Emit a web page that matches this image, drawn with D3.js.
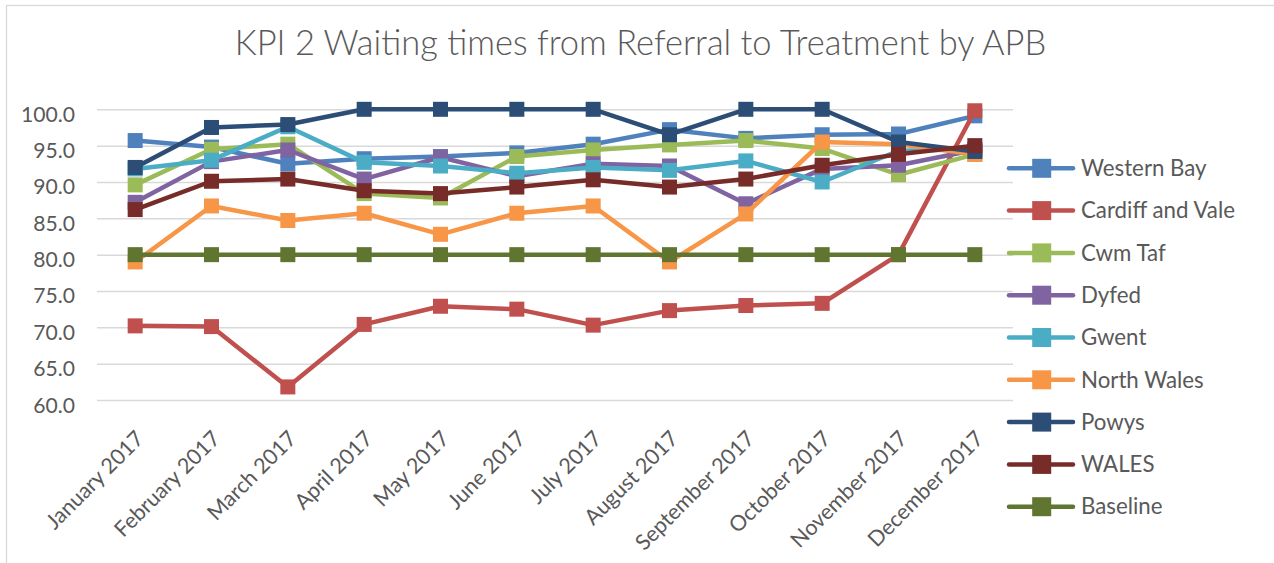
<!DOCTYPE html>
<html>
<head>
<meta charset="utf-8">
<script src="https://cdn.jsdelivr.net/npm/d3@7"></script>
<style>
  html, body { margin: 0; padding: 0; background: #fff; }
  svg { display: block; }
  text { font-family: Lato, "Open Sans", sans-serif; fill: #595959; }
</style>
</head>
<body>
<svg id="chart" width="1274" height="563"></svg>
<script>
const title = "KPI 2 Waiting times from Referral to Treatment by APB";
const months = ["January 2017", "February 2017", "March 2017", "April 2017", "May 2017", "June 2017",
  "July 2017", "August 2017", "September 2017", "October 2017", "November 2017", "December 2017"];
const yTicks = [60, 65, 70, 75, 80, 85, 90, 95, 100];

const seriesNames = ["Western Bay", "Cardiff and Vale", "Cwm Taf", "Dyfed", "Gwent", "North Wales", "Powys", "WALES", "Baseline"];
const seriesColors = ["#4F81BD", "#C0504D", "#9BBB59", "#8064A2", "#4BACC6", "#F79646", "#2C4D75", "#772C2A", "#5F7530"];

const westernBay   = [95.7, 94.8, 92.5, 93.2, 93.5, 94.0, 95.2, 97.2, 96.0, 96.5, 96.6, 99.1];
const cardiffVale  = [70.2, 70.1, 61.8, 70.4, 72.9, 72.5, 70.3, 72.3, 73.0, 73.3, 80.0, 99.8];
const cwmTaf       = [89.6, 94.5, 95.2, 88.4, 87.8, 93.5, 94.4, 95.1, 95.7, 94.6, 91.0, 93.8];
const dyfed        = [87.2, 92.8, 94.4, 90.4, 93.4, 90.8, 92.5, 92.2, 87.0, 91.8, 92.3, 94.4];
const gwent        = [91.8, 93.0, 97.6, 92.7, 92.2, 91.2, 92.0, 91.6, 92.9, 90.0, 94.3, 94.5];
const northWales   = [79.0, 86.7, 84.7, 85.7, 82.8, 85.7, 86.7, 79.0, 85.6, 95.5, 95.2, 93.8];
const powys        = [92.0, 97.5, 97.9, 100.0, 100.0, 100.0, 100.0, 96.5, 100.0, 100.0, 95.5, 94.2];
const wales        = [86.2, 90.1, 90.4, 88.8, 88.4, 89.3, 90.3, 89.3, 90.4, 92.3, 93.8, 95.0];
const baseline     = [80, 80, 80, 80, 80, 80, 80, 80, 80, 80, 80, 80];

const seriesValues = [westernBay, cardiffVale, cwmTaf, dyfed, gwent, northWales, powys, wales, baseline];

const svg = d3.select("#chart");

// chart border (top & left visible)
svg.append("rect")
  .attr("x", 6.5).attr("y", 5.5).attr("width", 1300).attr("height", 600)
  .attr("fill", "none").attr("stroke", "#D9D9D9").attr("stroke-width", 1.3);

const plotLeft = 97, plotRight = 1013, plotTop = 109.3, plotBottom = 400;

const x = d3.scaleBand().domain(months).range([plotLeft, plotRight]).padding(0);
const cx = d => x(d) + x.bandwidth() / 2;
const y = d3.scaleLinear().domain([60, 100]).range([plotBottom, plotTop]);

function fitFont(sel, sample, target) {
  const t = svg.append("text").attr("font-size", 20).text(sample);
  const w = t.node().getComputedTextLength();
  t.remove();
  const fs = 20 * target / w;
  sel.attr("font-size", fs);
  return fs;
}

// gridlines
const yAxis = d3.axisLeft(y).tickValues(yTicks).tickSize(-(plotRight - plotLeft)).tickFormat(d3.format(".1f")).tickPadding(22);
const gy = svg.append("g").attr("transform", `translate(${plotLeft},0)`).call(yAxis);
gy.select(".domain").remove();
gy.selectAll(".tick line").attr("stroke", "#D9D9D9").attr("stroke-width", 1.5);
gy.selectAll(".tick text")
  .attr("fill", "#595959")
  .attr("font-family", "Lato, 'Open Sans', sans-serif")
  .attr("dy", null).attr("y", 12).attr("dominant-baseline", "auto");
fitFont(gy.selectAll(".tick text"), "100.0", 54);

// x axis labels
const xAxis = d3.axisBottom(x).tickSize(0).tickFormat(d => d);
const gx = svg.append("g").attr("transform", `translate(0,${plotBottom})`).call(xAxis);
gx.select(".domain").remove();
gx.selectAll(".tick text")
  .attr("fill", "#595959")
  .attr("font-family", "Lato, 'Open Sans', sans-serif")
  .attr("text-anchor", "end")
  .attr("dy", null).attr("y", 0)
  .attr("transform", "translate(10,40) rotate(-45)");
fitFont(gx.selectAll(".tick text"), "January 2017", 128);

// series
const line = d3.line().x((d, i) => cx(months[i])).y(d => y(d));
const msize = 15;
seriesNames.forEach((name, si) => {
  const g = svg.append("g").attr("class", "series");
  g.append("path")
    .datum(seriesValues[si])
    .attr("d", line)
    .attr("fill", "none")
    .attr("stroke", seriesColors[si])
    .attr("stroke-width", 4.5)
    .attr("stroke-linejoin", "round")
    .attr("stroke-linecap", "round");
  g.selectAll("rect").data(seriesValues[si]).join("rect")
    .attr("x", (d, i) => cx(months[i]) - msize / 2)
    .attr("y", d => y(d) - msize / 2)
    .attr("width", msize).attr("height", msize)
    .attr("fill", seriesColors[si]);
});

// legend
const legendY0 = 168.3, legendStep = 42.3;
const lg = svg.append("g");
const items = lg.selectAll("g").data(seriesNames).join("g")
  .attr("transform", (d, i) => `translate(0,${legendY0 + i * legendStep})`);
items.append("line")
  .attr("x1", 1009).attr("x2", 1073).attr("y1", 0).attr("y2", 0)
  .attr("stroke", (d, i) => seriesColors[i]).attr("stroke-width", 4.5).attr("stroke-linecap", "round");
items.append("rect")
  .attr("x", 1041.7 - 9.5).attr("y", -9.5).attr("width", 19).attr("height", 19)
  .attr("fill", (d, i) => seriesColors[i]);
const legendText = items.append("text")
  .attr("x", 1081).attr("y", 7.7)
  .text(d => d);
fitFont(legendText, "Cardiff and Vale", 154);

// title
const tt = svg.append("text")
  .attr("x", 640.5).attr("y", 55)
  .attr("text-anchor", "middle")
  .attr("font-weight", 300)
  .text(title);
fitFont(tt, title, 828);
</script>
</body>
</html>
